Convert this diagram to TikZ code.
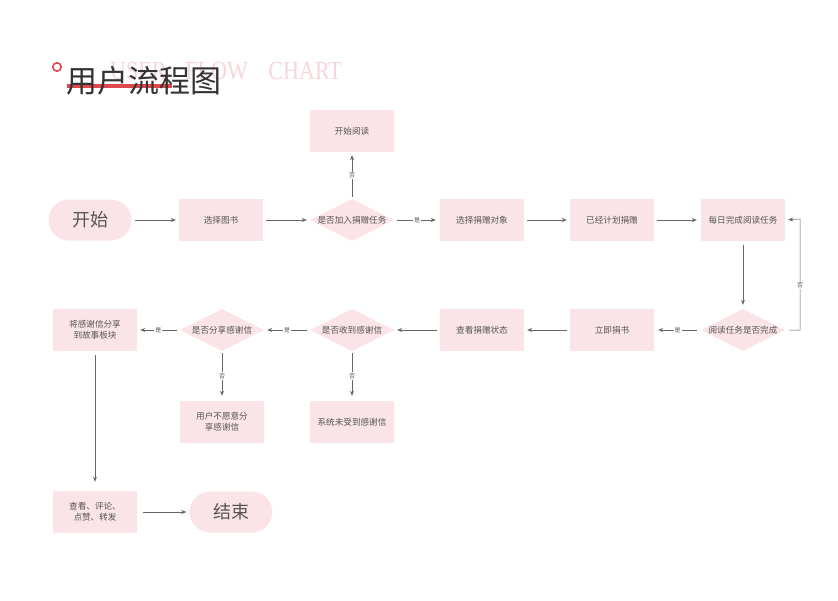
\documentclass[tikz,border=0pt]{standalone}
\usepackage{fontspec}
\setmainfont{Noto Sans CJK SC}
\newfontfamily\serifen{Liberation Serif}
\usetikzlibrary{shapes.geometric,arrows.meta}
\definecolor{boxfill}{HTML}{FBE4E7}
\definecolor{txt}{HTML}{555555}
\definecolor{ln}{HTML}{666666}
\definecolor{titred}{HTML}{E0474C}
\definecolor{ghost}{HTML}{F6D6DB}
\definecolor{titdark}{HTML}{333333}
\tikzset{
  box/.style={rectangle, fill=boxfill, minimum width=84pt, minimum height=42pt, inner sep=2pt, text=txt, font=\fontsize{8.6}{11}\selectfont, align=center},
  pill/.style={rectangle, rounded corners=20.5pt, fill=boxfill, minimum width=83pt, minimum height=41pt, text=txt, font=\fontsize{18}{20}\selectfont},
  dia/.style={diamond, fill=boxfill, minimum width=84pt, minimum height=42pt, inner sep=0pt, aspect=2},
  dtext/.style={text=txt, font=\fontsize{8.6}{11}\selectfont},
  conn/.style={draw=ln, line width=0.6pt, -{Stealth[length=5pt,width=4pt]}},
  lab/.style={fill=white, inner sep=1pt, text=txt, font=\fontsize{6}{6}\selectfont},
}
\begin{document}
\begin{tikzpicture}[x=1pt,y=-1pt]
\useasboundingbox[fill=white] (0,0) rectangle (838,600);
% title
\node[text=ghost, font=\serifen\fontsize{26}{28}\selectfont, anchor=west, inner sep=0] (en) at (110,71) {\scalebox{0.85}[1]{USER\hspace{22pt}FLOW\hspace{24pt}CHART}};
\fill[titred] (67,84) rectangle (172,88);
\draw[titred, line width=1.6pt] (57,67) circle (4.2);
\node[text=titdark, font=\fontsize{31}{33}\selectfont, anchor=west, inner sep=0] (title) at (66,81) {用户流程图};
% row 1
\node[pill] (start) at (90,220) {开始};
\node[box] (b1) at (221,220) {选择图书};
\node[dia, label={[dtext]center:是否加入捐赠任务}] (d1) at (352,220) {};
\node[box] (read) at (352,131) {开始阅读};
\node[box] (b2) at (482,220) {选择捐赠对象};
\node[box] (b3) at (612,220) {已经计划捐赠};
\node[box] (b4) at (743,220) {每日完成阅读任务};
% row 2
\node[dia, label={[dtext]center:阅读任务是否完成}] (d2) at (743,330) {};
\node[box] (b5) at (612,330) {立即捐书};
\node[box] (b6) at (482,330) {查看捐赠状态};
\node[dia, label={[dtext]center:是否收到感谢信}] (d3) at (352,330) {};
\node[dia, label={[dtext]center:是否分享感谢信}] (d4) at (222,330) {};
\node[box] (b7) at (95,330) {将感谢信分享\\到故事板块};
% row 3
\node[box] (n1) at (222,422) {用户不愿意分\\享感谢信};
\node[box] (n2) at (352,422) {系统未受到感谢信};
% row 4
\node[box] (b8) at (95,512) {查看、评论、\\点赞、转发};
\node[pill] (end) at (231,512) {结束};
% connectors
\draw[conn, shorten <=3pt, shorten >=3pt] (start) -- (b1);
\draw[conn, shorten <=3pt, shorten >=3pt] (b1) -- (d1);
\draw[conn, shorten <=3pt, shorten >=4pt] (d1) -- node[lab]{是} (b2);
\draw[conn, shorten <=2pt, shorten >=3pt] (d1) -- node[lab]{否} (read);
\draw[conn, shorten <=3pt, shorten >=3pt] (b2) -- (b3);
\draw[conn, shorten <=3pt, shorten >=4pt] (b3) -- (b4);
\draw[conn, line width=0.9pt, shorten <=4pt, shorten >=4pt] (b4) -- (d2);
\coordinate (lp1) at (800,330);
\coordinate (lp2) at (800,219);
\draw[conn, line width=0.5pt, shorten <=4pt, shorten >=3pt] (d2.east) -- (lp1) -- node[lab, pos=0.4]{否} (lp2) -- (b4.east);
\draw[conn, shorten <=4pt, shorten >=4pt] (d2) -- node[lab]{是} (b5);
\draw[conn, shorten <=3pt, shorten >=3pt] (b5) -- (b6);
\draw[conn, shorten <=3pt, shorten >=3pt] (b6) -- (d3);
\draw[conn, shorten <=3pt, shorten >=3pt] (d3) -- node[lab]{是} (d4);
\draw[conn, shorten <=3pt, shorten >=3pt] (d4) -- node[lab]{是} (b7);
\draw[conn, shorten <=2pt, shorten >=5pt] (d4) -- node[lab]{否} (n1);
\draw[conn, shorten <=2pt, shorten >=5pt] (d3) -- node[lab]{否} (n2);
\draw[conn, line width=0.9pt, shorten <=4pt, shorten >=9pt] (b7) -- (b8);
\draw[conn, shorten <=6pt, shorten >=3pt] (b8) -- (end);
\end{tikzpicture}
\end{document}
